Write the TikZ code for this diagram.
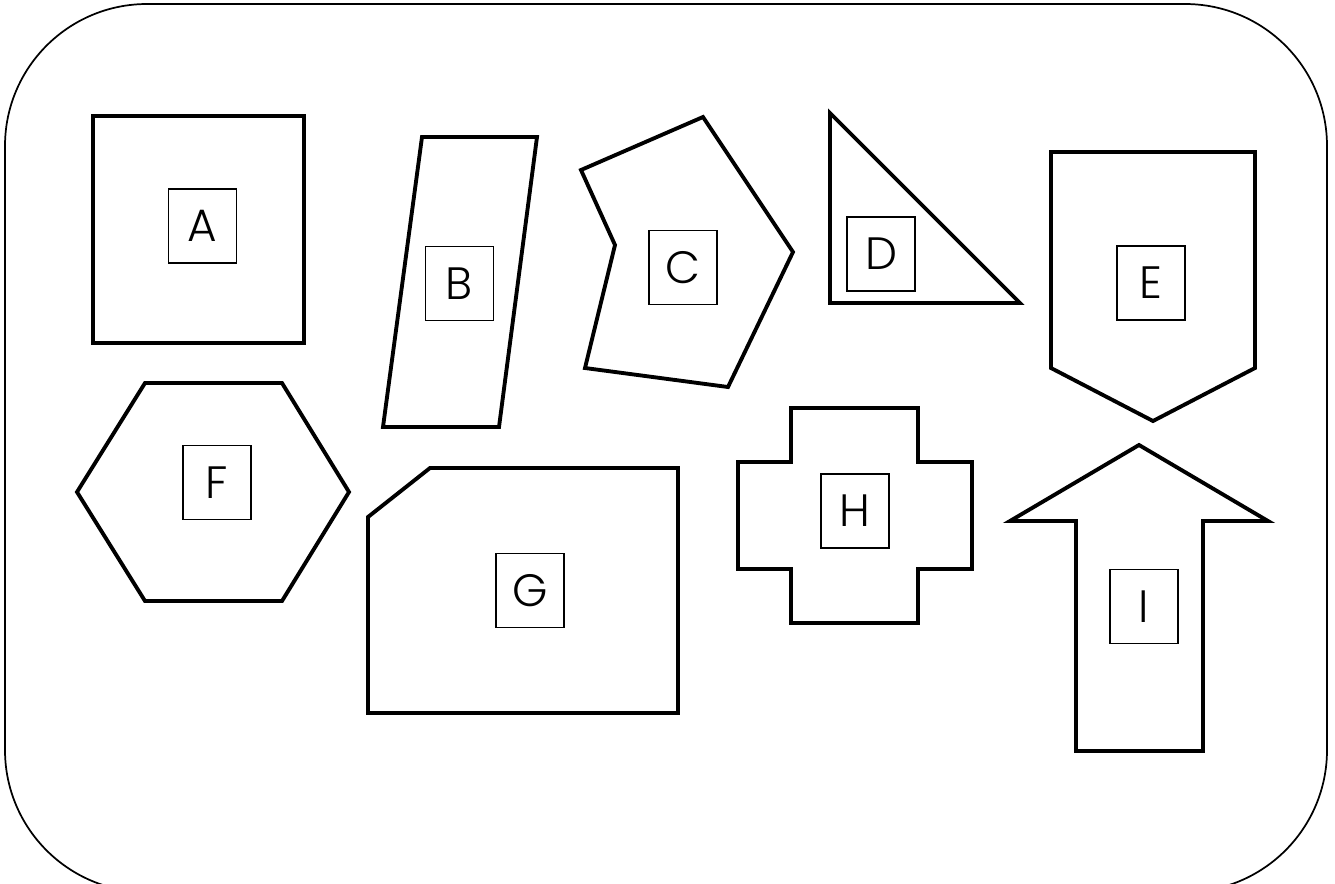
\documentclass[tikz,border=0pt]{standalone}
\usepackage{fontspec}
\setmainfont{Poppins Light}
\begin{document}
\begin{tikzpicture}[x=0.75pt,y=-0.75pt,
  shapeline/.style={draw=black,line width=2.9pt,line join=miter},
  labelbox/.style={draw=black,line width=1.1pt,rectangle,minimum width=51pt,minimum height=55.5pt,inner sep=0pt,font=\fontsize{34}{37}\selectfont},
  frame/.style={draw=black,line width=1.3pt,rounded corners=106.5pt}]
\useasboundingbox (0,0) rectangle (1335,883);
\clip (0,0) rectangle (1335,883);
\fill[white] (0,0) rectangle (1335,883);
% outer frame
\draw[frame] (5,4) rectangle (1327,892);
% A
\draw[shapeline] (93,116) rectangle (304,343);
\node[labelbox] (la) at (202.5,226) {A};
% B
\draw[shapeline] (422,137) -- (537,137) -- (499,427) -- (383,427) -- cycle;
\node[labelbox] (lb) at (459.5,283.5) {B};
% C
\draw[shapeline] (581,170) -- (703,117) -- (793,252) -- (728,387) -- (585,368) -- (615,245) -- cycle;
\node[labelbox] (lc) at (683,267.5) {C};
% D
\draw[shapeline] (830,113) -- (1020,303) -- (830,303) -- cycle;
\node[labelbox] (ld) at (881,254) {D};
% E
\draw[shapeline] (1051,152) -- (1255,152) -- (1255,368) -- (1153,421) -- (1051,368) -- cycle;
\node[labelbox] (le) at (1151,283) {E};
% F
\draw[shapeline] (77,492) -- (145,383) -- (282,383) -- (349,492) -- (282,601) -- (145,601) -- cycle;
\node[labelbox] (lf) at (217,482.5) {F};
% G
\draw[shapeline] (368,517) -- (430,468) -- (678,468) -- (678,713) -- (368,713) -- cycle;
\node[labelbox] (lg) at (530,590.5) {G};
% H
\draw[shapeline] (791,408) -- (918,408) -- (918,462) -- (972,462) -- (972,569) -- (918,569) -- (918,623) -- (791,623) -- (791,569) -- (738,569) -- (738,462) -- (791,462) -- cycle;
\node[labelbox] (lh) at (855,511) {H};
% I
\draw[shapeline] (1139,445) -- (1268,521) -- (1203,521) -- (1203,751) -- (1076,751) -- (1076,521) -- (1010,521) -- cycle;
\node[labelbox] (li) at (1144,606.5) {I};
\end{tikzpicture}
\end{document}
